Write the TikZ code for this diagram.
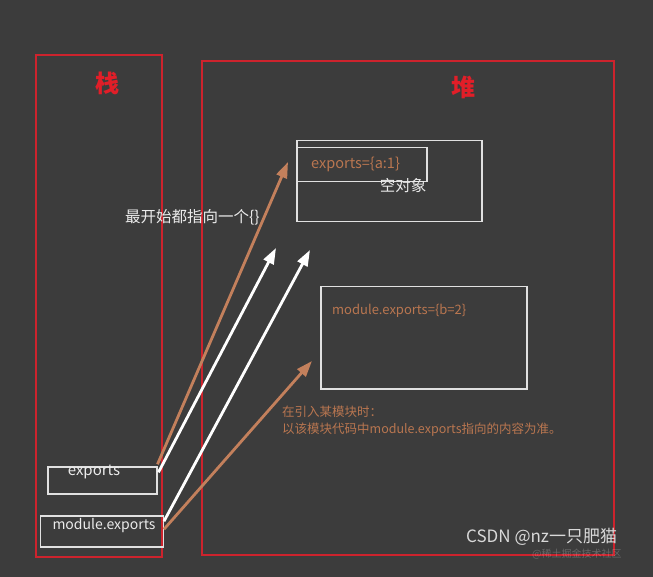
\documentclass[tikz,border=0pt]{standalone}
\usepackage{fontspec}
\setmainfont{Noto Sans CJK SC}
\usetikzlibrary{arrows.meta,calc}
\definecolor{bg}{RGB}{60,60,60}
\definecolor{redline}{RGB}{205,35,45}
\definecolor{redtext}{RGB}{225,30,40}
\definecolor{orangearrow}{RGB}{195,128,92}
\definecolor{orangetext}{RGB}{185,118,80}
\definecolor{boxline}{RGB}{225,225,225}
\tikzset{
  region/.style={draw=redline, line width=1.8pt, anchor=north west, inner sep=0pt},
  membox/.style={draw=boxline, line width=1.5pt, anchor=north west, inner sep=0pt},
  title/.style={text=redtext, font=\fontsize{24}{24}\selectfont\bfseries, inner sep=0pt},
  whitetext/.style={text=white!92!black, inner sep=0pt},
  orangelabel/.style={text=orangetext, inner sep=0pt},
  ptr/.style={line width=2.8pt, -{Triangle[length=16pt,width=11pt]}, shorten <=0pt},
  orangeptr/.style={ptr, draw=orangearrow, fill=orangearrow},
  whiteptr/.style={ptr, draw=white, fill=white},
}
\begin{document}
\begin{tikzpicture}[x=1pt,y=-1pt]
\fill[bg] (0,0) rectangle (653,577);
\useasboundingbox (0,0) rectangle (653,577);

% regions
\node[region, minimum width=126pt, minimum height=502pt] (stack) at (35,54) {};
\node[region, minimum width=412pt, minimum height=494pt] (heap) at (201,60) {};
\node[title] (stacktitle) at (107,83) {栈};
\node[title] (heaptitle) at (463,87) {堆};

% heap objects
\node[membox, minimum width=185pt, minimum height=81pt] (emptyobj) at (296,140) {};
\node[membox, minimum width=130pt, minimum height=34pt] (expobj) at (296,147) {};
\node[orangelabel, anchor=west, font=\fontsize{14.5}{14.5}\selectfont] (expobjtext) at (311,164) {exports=\{a:1\}};
\node[whitetext, font=\fontsize{15.5}{15.5}\selectfont] (emptytext) at (403,186) {空对象};

\node[membox, minimum width=206pt, minimum height=102pt] (modobj) at (320,286) {};
\node[orangelabel, anchor=west, font=\fontsize{13}{13}\selectfont] (modobjtext) at (332,311) {module.exports=\{b=2\}};

% stack variables
\node[membox, minimum width=109pt, minimum height=27pt] (expvar) at (47,466) {};
\node[whitetext, font=\fontsize{15}{15}\selectfont] (expvartext) at (94,472) {exports};
\node[membox, minimum width=123pt, minimum height=31pt] (modvar) at (39.5,515) {};
\node[whitetext, font=\fontsize{14}{14}\selectfont] (modvartext) at (104,526) {module.exports};

% notes
\node[whitetext, anchor=west, font=\fontsize{15.5}{15.5}\selectfont] (note1) at (125,217) {最开始都指向一个\{\}};
\node[orangelabel, anchor=north west, align=left, font=\fontsize{12.5}{16.5}\selectfont] (note2) at (282,406) {在引入某模块时：\\以该模块代码中module.exports指向的内容为准。};

% arrow tips
\coordinate (tipA) at (288,162);
\coordinate (tipB) at (276,248);
\coordinate (tipC) at (310,250);
\coordinate (tipD) at (312,361);

\draw[orangeptr] ([yshift=16pt]expvar.east) -- (tipA);
\draw[whiteptr] ([xshift=1pt,yshift=8pt]expvar.east) -- (tipB);
\draw[whiteptr] ([yshift=10pt]modvar.east) -- (tipC);
\draw[orangeptr] ([yshift=2pt]modvar.east) -- (tipD);

% watermark
\node[text=white!85!black, font=\fontsize{17}{17}\selectfont, anchor=west, inner sep=0pt] (wm) at (466,537) {CSDN @nz一只肥猫};
\node[text=white, opacity=0.22, font=\fontsize{10}{10}\selectfont, anchor=west, inner sep=0pt] (wm2) at (532,554) {@稀土掘金技术社区};
\end{tikzpicture}
\end{document}
